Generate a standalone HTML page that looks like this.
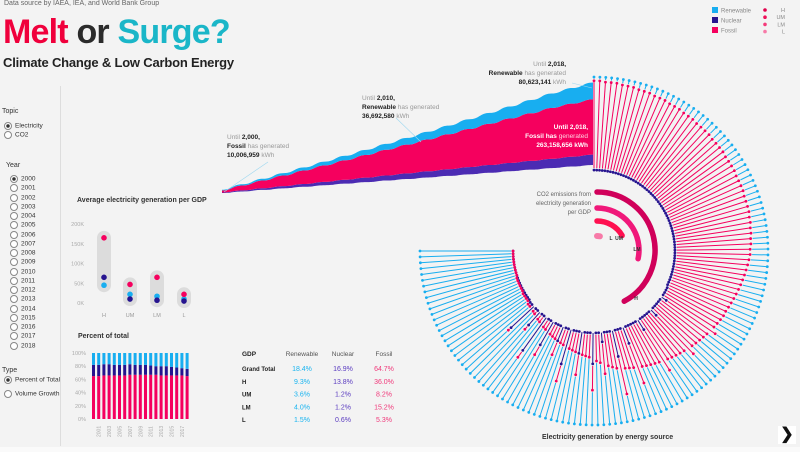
<!DOCTYPE html>
<html><head><meta charset="utf-8">
<style>
body{margin:0;background:#f3f3f3;font-family:"Liberation Sans",sans-serif;}
#root{position:relative;width:800px;height:452px;overflow:hidden;background:#f3f3f3;}
.t{position:absolute;white-space:nowrap;}
svg{position:absolute;left:0;top:0;}
</style></head>
<body>
<div id="root">
<div class="t" style="left:4px;top:0px;font-size:7px;color:#666">Data source by IAEA, IEA, and World Bank Group</div>
<div class="t" style="left:3px;top:12px;font-size:34px;font-weight:bold;letter-spacing:-0.8px;line-height:40px"><span style="color:#f0003c">Melt</span> <span style="color:#2b2b2b">or</span> <span style="color:#1ab6c8">Surge?</span></div>
<div class="t" style="left:3px;top:55px;font-size:13px;font-weight:bold;color:#222;letter-spacing:-0.2px">Climate Change &amp; Low Carbon Energy</div>

<div style="position:absolute;left:60px;top:86px;width:1px;height:360px;background:#ddd"></div>
<div class="t" style="left:2px;top:108px;font-size:7px;color:#333">Topic</div>
<div id="side"></div>
<div class="t" style="left:6px;top:162px;font-size:7px;color:#333">Year</div>
<div class="t" style="left:2px;top:367px;font-size:7px;color:#333">Type</div>

<div class="t" style="left:77px;top:197px;font-size:7px;font-weight:bold;color:#333">Average electricity generation per GDP</div>
<div class="t" style="left:78px;top:333px;font-size:7px;font-weight:bold;color:#333">Percent of total</div>
<div class="t" style="left:542px;top:434px;font-size:7px;font-weight:bold;color:#333">Electricity generation by energy source</div>
<div style="position:absolute;left:778px;top:426px;width:18px;height:18px;background:#fff;font-size:16px;font-weight:bold;text-align:center;line-height:18px;color:#111">&#x276F;</div>
<div style="position:absolute;left:0;top:447px;width:800px;height:5px;background:#fafafa"></div>

<svg id="svg" width="800" height="452"></svg>
</div>
<script>
// ---- Area chart data (cumulative, million kWh)
const years=[2000,2001,2002,2003,2004,2005,2006,2007,2008,2009,2010,2011,2012,2013,2014,2015,2016,2017,2018];
const cumNuclear=[2.6,5.2,7.9,10.6,13.3,16.0,18.7,21.4,24.1,26.7,29.3,31.9,34.4,36.9,39.4,41.8,44.2,46.7,49.2];
const cumFossil=[10.0,23.3,36.8,50.5,64.5,78.7,93.1,107.8,122.5,137.0,151.6,166.4,181.4,196.5,211.7,226.9,242.3,252.7,263.2];
const cumRenew=[2.8,5.7,8.6,11.6,14.7,17.9,21.2,24.6,28.2,32.1,36.7,41.3,46.3,51.6,57.2,62.9,68.6,74.5,80.6];
// ---- Dot chart data (K)
const gdpGroups=['H','UM','LM','L'];
const dotFossil=[165,47,65,22];
const dotNuclear=[65,10,7,5];
const dotRenew=[45,22,17,10];
const dotTicks=[0,50,100,150,200];
// ---- Percent of total
const pctFossil=[65,65,66,66,66,66,66,67,67,67,67,67,67,66,66,66,66,66,65];
const pctNuclear=[17,17,17,17,16,16,16,16,15,15,15,14,13,14,14,13,12,11,11];
const pctTicks=[0,20,40,60,80,100];
// ---- Table
const tblRows=['Grand Total','H','UM','LM','L'];
const tblRenew=['18.4%','9.3%','3.6%','4.0%','1.5%'];
const tblNuclear=['16.9%','13.8%','1.2%','1.2%','0.6%'];
const tblFossil=['64.7%','36.0%','8.2%','15.2%','5.3%'];
// ---- CO2 arcs (degrees of sweep)
const co2Groups=['H','LM','UM','L'];
const co2Sweep=[152,102,60,12];
// ---- Radial chart (percent per country)
const radFossil=[95,95,94,94,94,93,93,93,92,92,92,91,91,91,90,90,90,89,89,89,
88,88,88,88,87,87,87,87,86,86,86,86,85,85,85,85,84,84,84,84,
83,83,82,82,81,81,80,80,79,78,77,76,75,74,73,72,71,70,69,68,
67,66,65,64,63,62,61,60,59,58,57,56,55,54,53,52,51,50,49,48,
47,46,45,44,43,42,41,40,38,36,34,32,30,28,26,25,24,23,22,21,
20,19,18,17,16,15,14,13,12,11,10,9,8,7,6,5,4,4,3,3,
2,2,2,2,1,1,1,1,1,1,0,0,0,0,0,0,0,0,0,0];
const radNuclear=[1,1,1,1,1,1,1,1,1,1,1,1,1,1,1,1,1,1,1,1,
1,1,1,1,1,1,1,1,1,1,1,1,1,1,1,1,1,1,1,1,
1,1,1,1,1,1,1,1,1,1,1,1,1,1,1,1,1,1,1,1,
2,2,2,2,8,2,2,2,2,2,10,2,2,2,2,2,14,2,2,2,
2,2,20,2,2,2,30,2,2,2,12,2,2,35,2,2,2,25,2,2,
2,40,2,2,18,2,2,2,30,2,2,45,2,2,20,2,2,35,2,2,
1,1,1,1,1,1,1,1,1,1,1,1,1,1,1,1,1,1,1,1];

const C={ren:'#18aef0',nuc:'#26148f',fos:'#f5005e',nucA:'#4b2bb3'};
const svg=document.getElementById('svg');
const NS='http://www.w3.org/2000/svg';
function el(tag,attrs,parent){const e=document.createElementNS(NS,tag);for(const k in attrs)e.setAttribute(k,attrs[k]);(parent||svg).appendChild(e);return e;}
function txt(x,y,s,size,fill,anchor,weight){const e=el('text',{x:x,y:y,'font-size':size,fill:fill,'text-anchor':anchor||'start','font-family':'Liberation Sans, sans-serif','font-weight':weight||'normal'});e.textContent=s;return e;}

// ---- sidebar radios
const side=document.getElementById('side');
function radio(x,y,label,on,name){
  const d=document.createElement('div');d.className='t';d.style.left=x+'px';d.style.top=y+'px';d.style.fontSize='6.5px';d.style.color='#333';
  d.innerHTML='<span style="display:inline-block;width:6px;height:6px;border:1px solid #888;border-radius:50%;vertical-align:middle;margin-right:3px;background:'+(on?'radial-gradient(#333 40%,#fff 45%)':'#fff')+'"></span>'+label;
  
  
  side.appendChild(d);
}
radio(4,122,'Electricity',true,'topic-electricity-radio');
radio(4,131,'CO2',false,'topic-co2-radio');
for(let i=0;i<19;i++){radio(10,175+i*9.25,String(2000+i),i===0,'year-'+(2000+i)+'-radio');}
radio(4,376,'Percent of Total',true,'type-percent-radio');
radio(4,390,'Volume Growth',false,'type-volume-radio');

// ---- area chart
const ax0=222,ax1=593,ayL=193,ayR=165,ak=0.21;
function axX(i){return ax0+(ax1-ax0)*i/(years.length-1);}
function aBase(i){return ayL+(ayR-ayL)*i/(years.length-1);}
function wavy(pts){let d='';pts.forEach((p,i)=>{if(i===0)d+='M'+p[0]+','+p[1];else{const q=pts[i-1];const mx=(q[0]+p[0])/2;d+=' C'+mx+','+q[1]+' '+mx+','+p[1]+' '+p[0]+','+p[1];}});return d;}
function layer(lo,hi,color,name){
  const top=years.map((y,i)=>[axX(i),aBase(i)-hi[i]*ak]);
  const bot=years.map((y,i)=>[axX(i),aBase(i)-lo[i]*ak]).reverse();
  let d=wavy(top)+' L'+bot[0][0]+','+bot[0][1]+wavy(bot).replace(/^M[^ ]+/,'')+' Z';
  const p=el('path',{d:d,fill:color});
  
  
}
const zero=years.map(()=>0);
const s1=cumNuclear, s2=years.map((y,i)=>cumNuclear[i]+cumFossil[i]), s3=years.map((y,i)=>s2[i]+cumRenew[i]);
layer(zero,s1,C.nucA,'area-nuclear');
layer(s1,s2,C.fos,'area-fossil');
layer(s2,s3,C.ren,'area-renewable');
el('line',{x1:224,y1:192,x2:268,y2:162,stroke:'#9fd8f0','stroke-width':0.6});
el('line',{x1:421,y1:142,x2:396,y2:118,stroke:'#9fd8f0','stroke-width':0.6});
el('line',{x1:572,y1:83,x2:592,y2:88,stroke:'#9fd8f0','stroke-width':0.6});
function ann(x,y,lines,anchor,light){
  lines.forEach((l,i)=>{const t=el('text',{x:x,y:y+i*9,'font-size':6.5,'text-anchor':anchor,'font-family':'Liberation Sans, sans-serif'});
    l.forEach(seg=>{const s=el('tspan',{fill:light?(seg[1]?'#fff':'#ffd0e0'):(seg[1]?'#222':'#999'),'font-weight':seg[1]?'bold':'normal'},t);s.textContent=seg[0];});});
}
ann(227,139,[[['Until  ',0],['2,000,',1]],[['Fossil ',1],['has generated',0]],[['10,006,959 ',1],['kWh',0]]],'start');
ann(362,100,[[['Until  ',0],['2,010,',1]],[['Renewable ',1],['has generated',0]],[['36,692,580 ',1],['kWh',0]]],'start');
ann(566,66,[[['Until  ',0],['2,018,',1]],[['Renewable ',1],['has generated',0]],[['80,623,141 ',1],['kWh',0]]],'end');
ann(588,129,[[['Until  ',1],['2,018,',1]],[['Fossil has ',1],['generated',0]],[['263,158,656 kWh',1]]],'end',true);

// ---- dot chart
const dy0=303,dy1=224,dxs=[104,130,157,184];
function dY(v){return dy0-(dy0-dy1)*v/200;}
dotTicks.forEach(t=>txt(84,dY(t)+2,t+'K',5.5,'#aaa','end'));
gdpGroups.forEach((g,i)=>{
  const vals=[dotFossil[i],dotNuclear[i],dotRenew[i]];
  const mx=Math.max(...vals),mn=Math.min(...vals);
  const r=el('rect',{x:dxs[i]-7,y:dY(mx)-7,width:14,height:dY(mn)-dY(mx)+14,rx:7,fill:'#dcdcdc'});
  
  
  [[dotRenew,C.ren],[dotNuclear,C.nuc],[dotFossil,C.fos]].forEach(([arr,c])=>{
    const d=el('circle',{cx:dxs[i],cy:dY(arr[i]),r:2.8,fill:c});
    
    
  });
  txt(dxs[i],317,g,5.5,'#999','middle');
});

// ---- percent bars
const py0=419,py1=353,pbx0=92,pbStep=5.2;
function pY(v){return py0-(py0-py1)*v/100;}
pctTicks.forEach(t=>txt(86,pY(t)+2,t+'%',5.5,'#aaa','end'));
years.forEach((y,i)=>{
  const x=pbx0+i*pbStep;
  const f=pctFossil[i],n=pctNuclear[i];
  const segs=[[0,f,C.fos],[f,f+n,C.nuc],[f+n,100,C.ren]];
  segs.forEach(s=>{const r=el('rect',{x:x,y:pY(s[1]),width:3,height:pY(s[0])-pY(s[1]),fill:s[2]});
    
    });
  if(y%2===1){const t=txt(x+3.5,437,String(y),5,'#aaa','start');t.setAttribute('transform','rotate(-90 '+(x+3.5)+' 437)');}
});

// ---- table
txt(242,356,'GDP',6.5,'#222','start','bold');
txt(302,356,'Renewable',6.5,'#555','middle');
txt(343,356,'Nuclear',6.5,'#555','middle');
txt(384,356,'Fossil',6.5,'#555','middle');
tblRows.forEach((r,i)=>{const y=371+i*12.8;
  txt(242,y,r,6,'#222','start','bold');
  txt(302,y,tblRenew[i],7,'#18b4f0','middle');
  txt(343,y,tblNuclear[i],7,'#5a3bc0','middle');
  txt(384,y,tblFossil[i],7,'#f0387a','middle');});

// ---- radial
const cx=594,cy=251,r0=80,R=174,N=radFossil.length;
function ang(i){return (i/(N-1))*270*Math.PI/180;}
function pt(a,r){return [cx+r*Math.sin(a),cy-r*Math.cos(a)];}
function rR(p){return r0+(R-r0)*p/100;}
for(let i=0;i<N;i++){
  const a=ang(i),n=radNuclear[i],f=radFossil[i];
  const g=el('g',{});
  
  
  const segs=[[0,n,C.nuc],[n,n+f,C.fos],[n+f,100,C.ren]];
  segs.forEach(s=>{
    const p1=pt(a,rR(s[0])+2),p2=pt(a,rR(s[1]));
    if(s[1]-s[0]>2)el('line',{x1:p1[0],y1:p1[1],x2:p2[0],y2:p2[1],stroke:s[2],'stroke-width':1},g);
    el('circle',{cx:p2[0],cy:p2[1],r:1.4,fill:s[2]},g);
  });
}
// CO2 arcs
const acx=597,acy=250,arcR=[58,42,29,14],arcC=['#d0005a','#f0187a','#ff1050','#f77aa8'];
co2Groups.forEach((g,i)=>{
  const r=arcR[i],sw=co2Sweep[i]*Math.PI/180;
  const p1=[acx,acy-r],p2=[acx+r*Math.sin(sw),acy-r*Math.cos(sw)];
  const a=el('path',{d:'M'+p1[0]+','+p1[1]+' A'+r+','+r+' 0 '+(sw>Math.PI?1:0)+' 1 '+p2[0]+','+p2[1],fill:'none',stroke:arcC[i],'stroke-width':i===3?6:5.5,'stroke-linecap':'round'});
  
  
});
txt(636,300,'H',5,'#333','middle','bold');
txt(637,251,'LM',5,'#333','middle','bold');
txt(619,240,'UM',5,'#333','middle','bold');
txt(611,240,'L',5,'#333','middle','bold');
txt(591,196,'CO2 emissions from',6,'#666','end');
txt(591,205,'electricity generation',6,'#666','end');
txt(591,214,'per GDP',6,'#666','end');

// ---- legend
const legN=['Renewable','Nuclear','Fossil'],legC=[C.ren,C.nuc,C.fos];
legN.forEach((n,i)=>{el('rect',{x:712,y:7+i*10,width:6,height:6,fill:legC[i]});txt(721,12.5+i*10,n,6,'#888');});
const legG=['H','UM','LM','L'],legGC=['#e0004c','#f0105a','#f53a7a','#f77aa8'];
legG.forEach((n,i)=>{el('circle',{cx:765,cy:10+i*7.2,r:1.8,fill:legGC[i]});txt(785,12+i*7.2,n,5.5,'#888','end');});
</script>
</body></html>
